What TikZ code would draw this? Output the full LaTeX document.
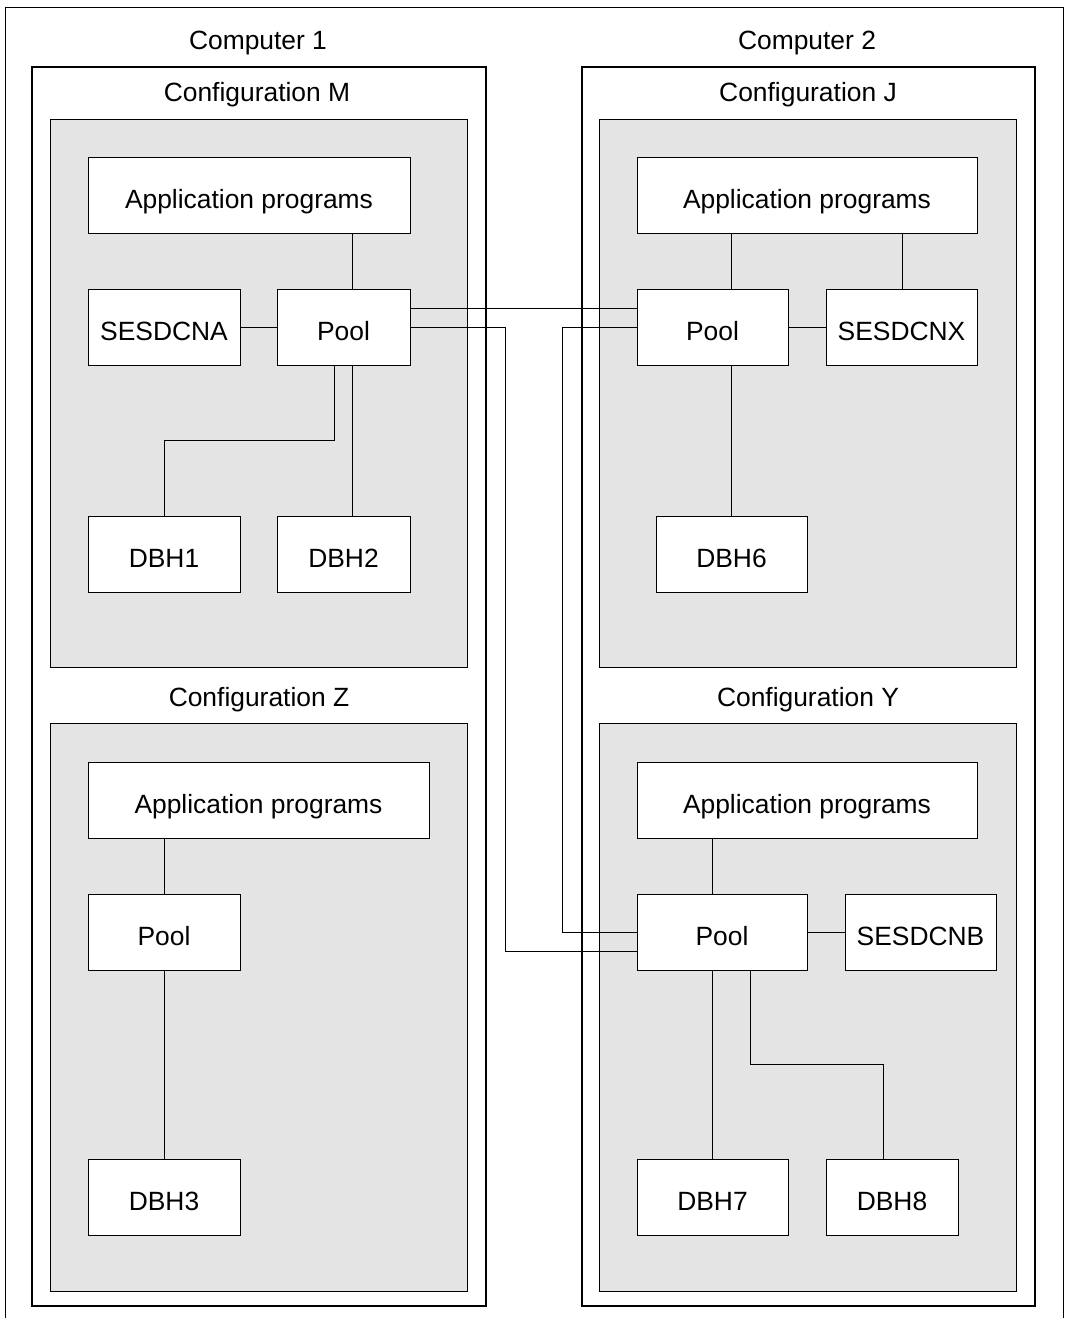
\documentclass[tikz,border=0pt]{standalone}
\usepackage{fontspec}
\setmainfont{Liberation Sans}
\usepackage{xcolor}
\usetikzlibrary{calc,positioning}
\definecolor{cfggray}{HTML}{E4E4E4}
\begin{document}
\begin{tikzpicture}[x=0.5pt,y=-0.5pt,
		box/.style={draw, fill=white, line width=0.5pt, minimum height=38pt, inner sep=0pt, text height=13.5pt, text depth=0pt, font=\fontsize{13.2}{16}\selectfont},
		cfg/.style={draw, fill=cfggray, line width=0.5pt},
		lbl/.style={inner sep=0pt, text height=9.7pt, text depth=0pt, font=\fontsize{13.2}{16}\selectfont},
		conn/.style={line width=0.5pt}]
		\useasboundingbox (0,0) rectangle (1068,1318);
		
		% frames
		\draw[line width=0.5pt] (5,1318) -- (5,7) -- (1063,7) -- (1063,1318);
		\draw[line width=1pt] (32,67) rectangle (486,1306);
		\draw[line width=1pt] (582,67) rectangle (1035,1306);
		\draw[cfg] (50,119) rectangle (467,667);
		\draw[cfg] (50,723) rectangle (467,1291);
		\draw[cfg] (599,119) rectangle (1016,667);
		\draw[cfg] (599,723) rectangle (1016,1291);
		
		\node[lbl] (comp1) at (258,40) {Computer 1};
		\node[lbl] (comp2) at (807,40) {Computer 2};
		\node[lbl] (cfgM) at (257,92) {Configuration M};
		\node[lbl] (cfgJ) at (808,92) {Configuration J};
		\node[lbl] (cfgZ) at (259,697) {Configuration Z};
		\node[lbl] (cfgY) at (808,697) {Configuration Y};
		
		% Configuration M
		\node[box, minimum width=161pt] (mapp) at (249,195) {Application programs};
		\node[box, minimum width=76pt] (msesdc) at (164,327) {SESDCNA};
		\node[box, minimum width=66.5pt] (mpool) at (343.5,327) {Pool};
		\node[box, minimum width=76pt] (mdbhA) at (164,554) {DBH1};
		\node[box, minimum width=66.5pt] (mdbhB) at (343.5,554) {DBH2};
		
		% Configuration J
		\node[box, minimum width=170pt] (japp) at (807,195) {Application programs};
		\node[box, minimum width=75.5pt] (jpool) at (712.5,327) {Pool};
		\node[box, minimum width=75.5pt] (jsesdc) at (901.5,327) {SESDCNX};
		\node[box, minimum width=75.5pt] (jdbh) at (731.5,554) {DBH6};
		
		% Configuration Z
		\node[box, minimum width=170.5pt] (zapp) at (258.5,800) {Application programs};
		\node[box, minimum width=76pt] (zpool) at (164,932) {Pool};
		\node[box, minimum width=76pt] (zdbh) at (164,1197) {DBH3};
		
		% Configuration Y
		\node[box, minimum width=170pt] (yapp) at (807,800) {Application programs};
		\node[box, minimum width=85pt] (ypool) at (722,932) {Pool};
		\node[box, minimum width=75.5pt] (ysesdc) at (920.5,932) {SESDCNB};
		\node[box, minimum width=75.5pt] (ydbhA) at (712.5,1197) {DBH7};
		\node[box, minimum width=66pt] (ydbhB) at (892,1197) {DBH8};
		
		% connections inside the configurations
		\draw[conn] (mapp.south -| 352,0) -- (mpool.north -| 352,0);
		\draw[conn] (msesdc) -- (mpool);
		\draw[conn] (mpool.south -| 334,0) |- (164,440) -- (mdbhA.north);
		\draw[conn] (mpool.south -| 352,0) -- (mdbhB.north -| 352,0);
		
		\draw[conn] (japp.south -| 731,0) -- (jpool.north -| 731,0);
		\draw[conn] (japp.south -| 902,0) -- (jsesdc.north -| 902,0);
		\draw[conn] (jpool) -- (jsesdc);
		\draw[conn] (jpool.south -| 731,0) -- (jdbh.north -| 731,0);
		
		\draw[conn] (zapp.south -| zpool) -- (zpool.north);
		\draw[conn] (zpool) -- (zdbh);
		
		\draw[conn] (yapp.south -| 712,0) -- (ypool.north -| 712,0);
		\draw[conn] (ypool) -- (ysesdc);
		\draw[conn] (ypool.south -| 712,0) -- (ydbhA.north -| 712,0);
		\draw[conn] (ypool.south -| 750,0) |- (883,1064) -- (ydbhB.north -| 883,0);
		
		% connections between the pools
		\draw[conn] (mpool.east |- 0,308) -- (jpool.west |- 0,308);
		\draw[conn] (mpool.east) -| (505,951) -- (ypool.west |- 0,951);
		\draw[conn] (jpool.west) -| (562,932) -- (ypool.west);
	\end{tikzpicture}
\end{document}
